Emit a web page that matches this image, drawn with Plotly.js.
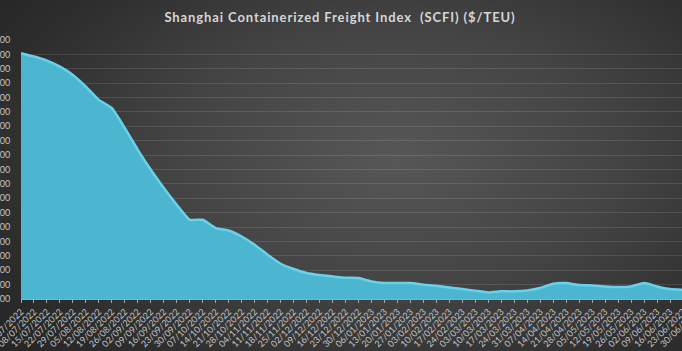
<!DOCTYPE html>
<html>
<head>
<meta charset="utf-8">
<script src="https://cdn.plot.ly/plotly-3.0.1.min.js"></script>
<style>
  html, body { margin: 0; padding: 0; width: 682px; height: 351px; overflow: hidden; }
  body { background: radial-gradient(ellipse 75% 85% at 58% 45%, #575757 0%, #434343 45%, #2d2d2d 80%, #252525 100%); }
  #chart { width: 706px; height: 351px; }
  .gtitle { letter-spacing: 0.9px; }
</style>
</head>
<body>
<div id="chart"></div>
<script>
// Weekly dates (Fridays)
const weekDates = [
  "01/07/2022","08/07/2022","15/07/2022","22/07/2022","29/07/2022",
  "05/08/2022","12/08/2022","19/08/2022","26/08/2022",
  "02/09/2022","09/09/2022","16/09/2022","23/09/2022","30/09/2022",
  "07/10/2022","14/10/2022","21/10/2022","28/10/2022",
  "04/11/2022","11/11/2022","18/11/2022","25/11/2022",
  "02/12/2022","09/12/2022","16/12/2022","23/12/2022","30/12/2022",
  "06/01/2023","13/01/2023","20/01/2023","27/01/2023",
  "03/02/2023","10/02/2023","17/02/2023","24/02/2023",
  "03/03/2023","10/03/2023","17/03/2023","24/03/2023","31/03/2023",
  "07/04/2023","14/04/2023","21/04/2023","28/04/2023",
  "05/05/2023","12/05/2023","19/05/2023","26/05/2023",
  "02/06/2023","09/06/2023","16/06/2023","23/06/2023","30/06/2023"
];
// SCFI values ($/TEU)
const scfiValues = [
  4217, 4170, 4114, 4031, 3915,
  3753, 3568, 3453, 3175,
  2874, 2596, 2342, 2110, 1901,
  1901, 1786, 1753, 1669,
  1554, 1415, 1290, 1217,
  1161, 1133, 1114, 1096, 1092,
  1044, 1022, 1022, 1022,
  999, 985, 961, 939,
  915, 892, 906, 906, 919,
  953, 1013, 1022, 994,
  989, 975, 967, 975,
  1022, 975, 939, 929, 925
];
const yTickVals = [800,1000,1200,1400,1600,1800,2000,2200,2400,2600,2800,3000,3200,3400,3600,3800,4000,4200,4400];

const labelColor = '#c4c4c4';

const trace = {
  type: 'scatter',
  mode: 'lines',
  x: weekDates,
  y: scfiValues,
  fill: 'tozeroy',
  fillcolor: 'rgb(76,182,209)',
  line: { color: 'rgb(104,210,236)', width: 2.5, shape: 'spline', smoothing: 0.5 },
  hoverinfo: 'x+y'
};

const layout = {
  width: 706,
  height: 351,
  margin: { l: 21, r: 10, t: 40, b: 52 },
  paper_bgcolor: 'rgba(0,0,0,0)',
  plot_bgcolor: 'rgba(0,0,0,0)',
  showlegend: false,
  title: {
    text: '<b>Shanghai Containerized Freight Index  (SCFI) ($/TEU)</b>',
    font: { family: 'Lato, "Open Sans", sans-serif', size: 13, color: '#d6d6d6' },
    x: 340 / 706, xanchor: 'center', xref: 'container',
    y: 1 - 17 / 351, yanchor: 'middle', yref: 'container'
  },
  xaxis: {
    type: 'category',
    range: [0, 52],
    tickmode: 'array',
    tickvals: weekDates,
    ticktext: weekDates,
    tickangle: -45,
    tickfont: { family: 'Lato, "Open Sans", sans-serif', size: 9, color: labelColor },
    ticks: 'outside', ticklen: 3, tickcolor: '#a8a8a8', tickwidth: 1,
    showline: true, linecolor: '#a8a8a8', linewidth: 1,
    showgrid: false, zeroline: false, automargin: false, fixedrange: true
  },
  yaxis: {
    range: [800, 4400],
    tickmode: 'array',
    tickvals: yTickVals,
    tickformat: ',',
    tickfont: { family: 'Lato, "Open Sans", sans-serif', size: 9, color: labelColor },
    ticks: 'outside', ticklen: 8, tickcolor: 'rgba(0,0,0,0)',
    showgrid: true, gridcolor: 'rgba(255,255,255,0.11)', gridwidth: 1,
    showline: false, zeroline: false, automargin: false, fixedrange: true
  }
};

Plotly.newPlot('chart', [trace], layout, { displayModeBar: false, staticPlot: true });
</script>
</body>
</html>
